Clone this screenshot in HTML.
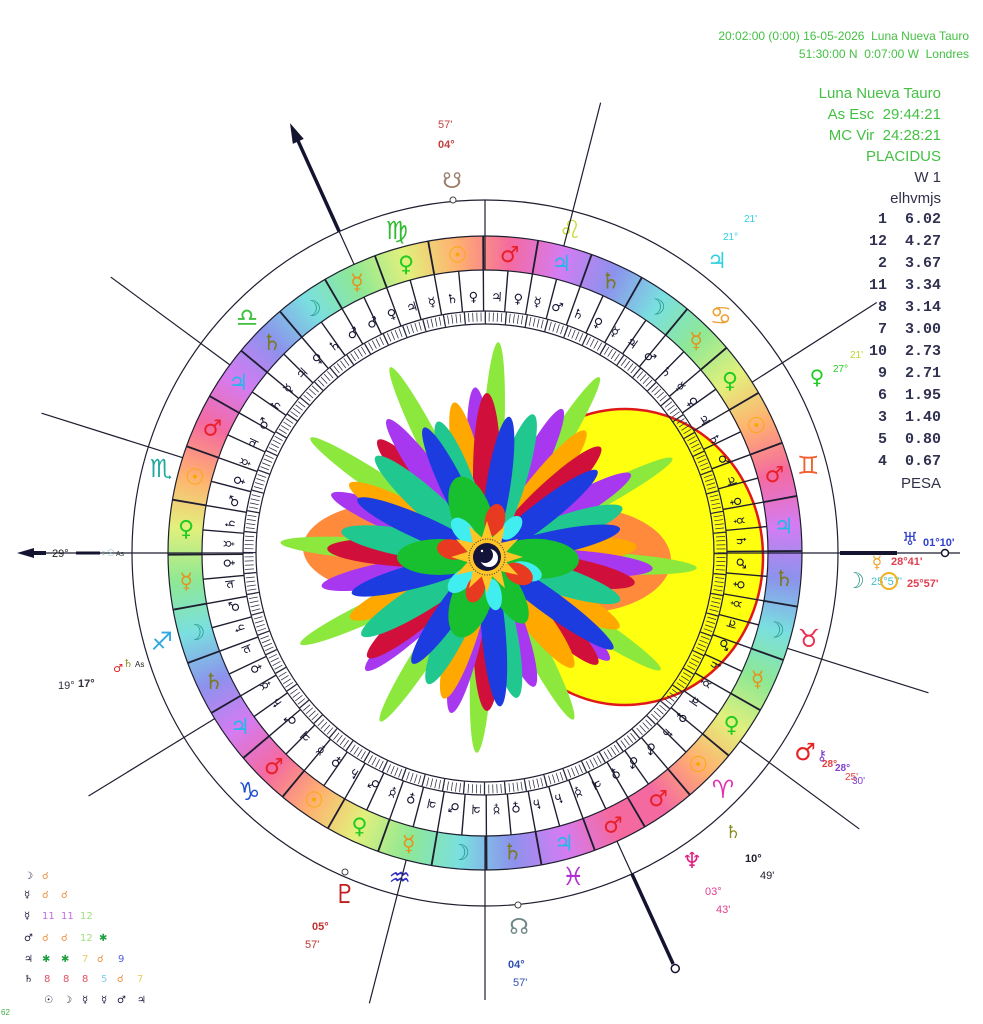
<!DOCTYPE html>
<html><head><meta charset="utf-8">
<style>
html,body{margin:0;padding:0;background:#fff;}
body{width:983px;height:1024px;overflow:hidden;position:relative;font-family:"Liberation Sans","DejaVu Sans",sans-serif;}
#band{position:absolute;left:168px;top:236px;width:634px;height:634px;border-radius:50%;
background:conic-gradient(from 154.74deg,#f46aa0 0deg,#d47cf2 10deg,#8c92ec 20deg,#7adfe0 30deg,#8ee894 40deg,#e2f07c 50deg,#ffb070 60deg,
#f46aa0 70deg,#d47cf2 80deg,#8c92ec 90deg,#7adfe0 100deg,#8ee894 110deg,#e2f07c 120deg,#ffb070 130deg,
#f46aa0 140deg,#d47cf2 150deg,#8c92ec 160deg,#7adfe0 170deg,#8ee894 180deg,#e2f07c 190deg,#ffb070 200deg,
#f46aa0 210deg,#d47cf2 220deg,#8c92ec 230deg,#7adfe0 240deg,#8ee894 250deg,#e2f07c 260deg,#ffb070 270deg,
#f46aa0 280deg,#d47cf2 290deg,#8c92ec 300deg,#7adfe0 310deg,#8ee894 320deg,#e2f07c 330deg,#ffb070 340deg,
#f46aa0 350deg,#f46aa0 360deg);}
svg{position:absolute;left:0;top:0;}
.g{font-family:"DejaVu Sans",sans-serif;text-anchor:middle;}
.ma{fill:#e8202a}.su{fill:#f8a800}.ve{fill:#22cc22}.me{fill:#e8901a}.mo{fill:#2a9a90}.sa{fill:#7a7a20}.ju{fill:#22b8e8}
.hd{position:absolute;color:#44c044;text-align:right;white-space:nowrap;}
.tb{position:absolute;font-family:"Liberation Mono",monospace;font-weight:bold;color:#303050;font-size:15px;white-space:pre;text-align:right;}
</style></head><body>
<div id="band"></div>
<svg width="983" height="1024" viewBox="0 0 983 1024">
<g transform="translate(485,553)">
 <circle r="283" fill="#fff"/>
 <ellipse cx="140" cy="4" rx="138" ry="148" fill="#ffff10" stroke="#e01818" stroke-width="2.5"/>
 <g fill="none" stroke="#1e1e30" stroke-width="1.2">
  <circle r="353"/><circle r="317"/><circle r="283"/><circle r="242"/><circle r="229"/>
 </g>
 <circle r="300" fill="none" stroke="#1e1e30" stroke-width="34" pathLength="360" stroke-dasharray="0.35 9.65" stroke-dashoffset="0.43"/>
 <circle r="262.5" fill="none" stroke="#1e1e30" stroke-width="41" pathLength="360" stroke-dasharray="0.3 4.7" stroke-dashoffset="0.41"/>
 <circle r="236" fill="none" stroke="#2a2a40" stroke-width="9" pathLength="360" stroke-dasharray="0.18 0.82"/>
 <circle r="236" fill="none" stroke="#2a2a40" stroke-width="13" pathLength="360" stroke-dasharray="0.3 4.7"/>
 <path id="bp" d="M 0 -252 A 252 252 0 1 1 0 252 A 252 252 0 1 1 0 -252" fill="none"/>
 <text font-family="DejaVu Sans" font-size="13" font-weight="bold" fill="#141430" textLength="1570" lengthAdjust="spacing"><textPath href="#bp" startOffset="6">♃♀☿♂♄♀☿♃♂♄☿♀♃♄♂♃♀☿♄♂♀☿♃♂♄☿♃♀♄♂♂♀♃☿♄♄♀☿♃♂♃♀☿♂♄♀☿♃♂♄☿♀♃♄♂♃♀☿♄♂♀☿♃♂♄☿♃♀♄♂♂♀♃☿♄♀</textPath></text>

 <g class="g" font-size="22" font-weight="bold">
 <text class="ma" transform="rotate(144.74) translate(0,-300) rotate(-144.74)" dy="8">♂</text>
 <text class="su" transform="rotate(134.74) translate(0,-300) rotate(-134.74)" dy="8">☉</text>
 <text class="ve" transform="rotate(124.74) translate(0,-300) rotate(-124.74)" dy="8">♀</text>
 <text class="me" transform="rotate(114.74) translate(0,-300) rotate(-114.74)" dy="8">☿</text>
 <text class="mo" transform="rotate(104.74) translate(0,-300) rotate(-104.74)" dy="8">☽</text>
 <text class="sa" transform="rotate(94.74) translate(0,-300) rotate(-94.74)" dy="8">♄</text>
 <text class="ju" transform="rotate(84.74) translate(0,-300) rotate(-84.74)" dy="8">♃</text>
 <text class="ma" transform="rotate(74.74) translate(0,-300) rotate(-74.74)" dy="8">♂</text>
 <text class="su" transform="rotate(64.74) translate(0,-300) rotate(-64.74)" dy="8">☉</text>
 <text class="ve" transform="rotate(54.74) translate(0,-300) rotate(-54.74)" dy="8">♀</text>
 <text class="me" transform="rotate(44.74) translate(0,-300) rotate(-44.74)" dy="8">☿</text>
 <text class="mo" transform="rotate(34.74) translate(0,-300) rotate(-34.74)" dy="8">☽</text>
 <text class="sa" transform="rotate(24.74) translate(0,-300) rotate(-24.74)" dy="8">♄</text>
 <text class="ju" transform="rotate(14.74) translate(0,-300) rotate(-14.74)" dy="8">♃</text>
 <text class="ma" transform="rotate(4.74) translate(0,-300) rotate(-4.74)" dy="8">♂</text>
 <text class="su" transform="rotate(-5.26) translate(0,-300) rotate(5.26)" dy="8">☉</text>
 <text class="ve" transform="rotate(-15.26) translate(0,-300) rotate(15.26)" dy="8">♀</text>
 <text class="me" transform="rotate(-25.26) translate(0,-300) rotate(25.26)" dy="8">☿</text>
 <text class="mo" transform="rotate(-35.26) translate(0,-300) rotate(35.26)" dy="8">☽</text>
 <text class="sa" transform="rotate(-45.26) translate(0,-300) rotate(45.26)" dy="8">♄</text>
 <text class="ju" transform="rotate(-55.26) translate(0,-300) rotate(55.26)" dy="8">♃</text>
 <text class="ma" transform="rotate(-65.26) translate(0,-300) rotate(65.26)" dy="8">♂</text>
 <text class="su" transform="rotate(-75.26) translate(0,-300) rotate(75.26)" dy="8">☉</text>
 <text class="ve" transform="rotate(-85.26) translate(0,-300) rotate(85.26)" dy="8">♀</text>
 <text class="me" transform="rotate(-95.26) translate(0,-300) rotate(95.26)" dy="8">☿</text>
 <text class="mo" transform="rotate(-105.26) translate(0,-300) rotate(105.26)" dy="8">☽</text>
 <text class="sa" transform="rotate(-115.26) translate(0,-300) rotate(115.26)" dy="8">♄</text>
 <text class="ju" transform="rotate(-125.26) translate(0,-300) rotate(125.26)" dy="8">♃</text>
 <text class="ma" transform="rotate(-135.26) translate(0,-300) rotate(135.26)" dy="8">♂</text>
 <text class="su" transform="rotate(-145.26) translate(0,-300) rotate(145.26)" dy="8">☉</text>
 <text class="ve" transform="rotate(-155.26) translate(0,-300) rotate(155.26)" dy="8">♀</text>
 <text class="me" transform="rotate(-165.26) translate(0,-300) rotate(165.26)" dy="8">☿</text>
 <text class="mo" transform="rotate(-175.26) translate(0,-300) rotate(175.26)" dy="8">☽</text>
 <text class="sa" transform="rotate(-185.26) translate(0,-300) rotate(185.26)" dy="8">♄</text>
 <text class="ju" transform="rotate(-195.26) translate(0,-300) rotate(195.26)" dy="8">♃</text>
 <text class="ma" transform="rotate(-205.26) translate(0,-300) rotate(205.26)" dy="8">♂</text>
 </g>
 <g class="g" font-size="25">
 <text fill="#e030b0" transform="rotate(134.74) translate(0,-335) rotate(-134.74)" dy="9">♈</text>
 <text fill="#e83050" transform="rotate(104.74) translate(0,-335) rotate(-104.74)" dy="9">♉</text>
 <text fill="#f06030" transform="rotate(74.74) translate(0,-335) rotate(-74.74)" dy="9">♊</text>
 <text fill="#f0a030" transform="rotate(44.74) translate(0,-335) rotate(-44.74)" dy="9">♋</text>
 <text fill="#c8d830" transform="rotate(14.74) translate(0,-335) rotate(-14.74)" dy="9">♌</text>
 <text fill="#33bb33" transform="rotate(-15.26) translate(0,-335) rotate(15.26)" dy="9">♍</text>
 <text fill="#40c040" transform="rotate(-45.26) translate(0,-335) rotate(45.26)" dy="9">♎</text>
 <text fill="#20a8a0" transform="rotate(-75.26) translate(0,-335) rotate(75.26)" dy="9">♏</text>
 <text fill="#30a8e0" transform="rotate(-105.26) translate(0,-335) rotate(105.26)" dy="9">♐</text>
 <text fill="#2050d0" transform="rotate(-135.26) translate(0,-335) rotate(135.26)" dy="9">♑</text>
 <text fill="#3030c0" transform="rotate(-165.26) translate(0,-335) rotate(165.26)" dy="9">♒</text>
 <text fill="#b030d0" transform="rotate(-195.26) translate(0,-335) rotate(195.26)" dy="9">♓</text>
 </g>
 <g stroke="#1e1e30" stroke-width="1.2">
  <line y1="-317" y2="-465" transform="rotate(14.4)"/>
  <line y1="-317" y2="-465" transform="rotate(57.4)"/>
  <line y1="-317" y2="-465" transform="rotate(107.5)"/>
  <line y1="-317" y2="-465" transform="rotate(126.4)"/>
  <line y1="-317" y2="-465" transform="rotate(194.4)"/>
  <line y1="-317" y2="-465" transform="rotate(238.5)"/>
  <line y1="-317" y2="-465" transform="rotate(287.5)"/>
  <line y1="-317" y2="-465" transform="rotate(306.4)"/>
  <line y1="-283" y2="-353" transform="rotate(0)"/>
  <line y1="-283" y2="-447" transform="rotate(180)"/>
  <line y1="-317" y2="-353" transform="rotate(155.4)"/>
  <line y1="-317" y2="-353" transform="rotate(335.6)"/>
 </g>
 <g transform="rotate(335.6)"><line y1="-353" y2="-460" stroke="#141430" stroke-width="3.5"/><polygon points="0,-472 -6,-452 6,-452" fill="#141430"/></g>
 <g transform="rotate(155.4)"><line y1="-353" y2="-452" stroke="#141430" stroke-width="3.5"/><circle cy="-457" r="4" fill="#fff" stroke="#141430" stroke-width="1.5"/></g>
</g>
<line x1="20" y1="553" x2="253" y2="553" stroke="#1e1e30" stroke-width="1.3"/>
<line x1="718" y1="553" x2="960" y2="553" stroke="#1e1e30" stroke-width="1.3"/>
<polygon points="17,553 34,548 34,558" fill="#141430"/>
<line x1="30" y1="553" x2="46" y2="553" stroke="#141430" stroke-width="4"/>
<line x1="76" y1="553" x2="100" y2="553" stroke="#141430" stroke-width="3"/>
<text x="52" y="557" font-size="11" fill="#222">29°</text>
<text x="100" y="556" font-size="9" fill="#7aa">♀☉</text>
<text x="116" y="556" font-size="7" fill="#333">As</text>
<line x1="840" y1="553" x2="897" y2="553" stroke="#141430" stroke-width="4"/>
<circle cx="945" cy="553" r="3.5" fill="#fff" stroke="#141430" stroke-width="1.5"/>

<circle cx="453" cy="200" r="3" fill="#fff" stroke="#444"/>
<circle cx="518" cy="905" r="3" fill="#fff" stroke="#444"/>
<circle cx="345" cy="872" r="3" fill="#fff" stroke="#444"/>

<g transform="translate(487,557)">
 <ellipse cx="-92" cy="-9" rx="92" ry="46" fill="#ff8a3c"/>
 <ellipse cx="92" cy="3" rx="92" ry="53" fill="#ff8a3c"/>
 <g fill="#8ce83c">
  <ellipse cy="-107" rx="11" ry="108" transform="rotate(3)"/>
  <ellipse cy="-106" rx="11" ry="106" transform="rotate(32)"/>
  <ellipse cy="-105" rx="11" ry="105" transform="rotate(62)"/>
  <ellipse cy="-105" rx="11" ry="105" transform="rotate(93)"/>
  <ellipse cy="-103" rx="11" ry="104" transform="rotate(123)"/>
  <ellipse cy="-92" rx="11" ry="92" transform="rotate(152)"/>
  <ellipse cy="-98" rx="11" ry="98" transform="rotate(183)"/>
  <ellipse cy="-98" rx="11" ry="98" transform="rotate(213)"/>
  <ellipse cy="-103" rx="11" ry="103" transform="rotate(245)"/>
  <ellipse cy="-103" rx="11" ry="104" transform="rotate(274)"/>
  <ellipse cy="-106" rx="11" ry="107" transform="rotate(304)"/>
  <ellipse cy="-106" rx="11" ry="107" transform="rotate(333)"/>
 </g>
 <g>
  <ellipse cy="-85" rx="13" ry="85" fill="#a838f0" transform="rotate(356)"/>
  <ellipse cy="-79" rx="14" ry="79" fill="#ffa800" transform="rotate(348)"/>
  <ellipse cy="-82" rx="14" ry="82" fill="#d0103a" transform="rotate(0)"/>
  <ellipse cy="-83" rx="13" ry="83" fill="#a838f0" transform="rotate(27)"/>
  <ellipse cy="-80" rx="14" ry="80" fill="#ffa800" transform="rotate(38)"/>
  <ellipse cy="-79" rx="14" ry="79" fill="#d0103a" transform="rotate(46)"/>
  <ellipse cy="-83" rx="13" ry="83" fill="#a838f0" transform="rotate(60)"/>
  <ellipse cy="-75" rx="14" ry="75" fill="#ffa800" transform="rotate(86)"/>
  <ellipse cy="-83" rx="13" ry="83" fill="#a838f0" transform="rotate(94)"/>
  <ellipse cy="-75" rx="14" ry="75" fill="#d0103a" transform="rotate(100)"/>
  <ellipse cy="-75" rx="14" ry="75" fill="#ffa800" transform="rotate(118)"/>
  <ellipse cy="-80" rx="13" ry="80" fill="#a838f0" transform="rotate(130)"/>
  <ellipse cy="-77" rx="14" ry="77" fill="#d0103a" transform="rotate(134)"/>
  <ellipse cy="-70" rx="14" ry="70" fill="#ffa800" transform="rotate(142)"/>
  <ellipse cy="-69" rx="13" ry="69" fill="#a838f0" transform="rotate(160)"/>
  <ellipse cy="-77" rx="14" ry="77" fill="#d0103a" transform="rotate(180)"/>
  <ellipse cy="-80" rx="13" ry="80" fill="#a838f0" transform="rotate(193)"/>
  <ellipse cy="-74" rx="14" ry="74" fill="#ffa800" transform="rotate(197)"/>
  <ellipse cy="-83" rx="13" ry="83" fill="#a838f0" transform="rotate(227)"/>
  <ellipse cy="-78" rx="14" ry="78" fill="#d0103a" transform="rotate(230)"/>
  <ellipse cy="-75" rx="14" ry="75" fill="#ffa800" transform="rotate(246)"/>
  <ellipse cy="-84" rx="13" ry="84" fill="#a838f0" transform="rotate(260)"/>
  <ellipse cy="-80" rx="14" ry="80" fill="#d0103a" transform="rotate(273)"/>
  <ellipse cy="-84" rx="13" ry="84" fill="#a838f0" transform="rotate(292)"/>
  <ellipse cy="-78" rx="14" ry="78" fill="#ffa800" transform="rotate(298)"/>
  <ellipse cy="-80" rx="14" ry="80" fill="#d0103a" transform="rotate(317)"/>
  <ellipse cy="-85" rx="13" ry="85" fill="#a838f0" transform="rotate(324)"/>
  <ellipse cy="-75" rx="14" ry="75" fill="#20c890" transform="rotate(18)"/>
  <ellipse cy="-72" rx="14" ry="72" fill="#20c890" transform="rotate(70)"/>
  <ellipse cy="-70" rx="14" ry="70" fill="#20c890" transform="rotate(108)"/>
  <ellipse cy="-72" rx="14" ry="72" fill="#20c890" transform="rotate(168)"/>
  <ellipse cy="-70" rx="14" ry="70" fill="#20c890" transform="rotate(205)"/>
  <ellipse cy="-74" rx="14" ry="74" fill="#20c890" transform="rotate(238)"/>
  <ellipse cy="-74" rx="14" ry="74" fill="#20c890" transform="rotate(280)"/>
  <ellipse cy="-75" rx="14" ry="75" fill="#20c890" transform="rotate(312)"/>
  <ellipse cy="-72" rx="14" ry="72" fill="#20c890" transform="rotate(340)"/>
  <ellipse cy="-71" rx="12" ry="71" fill="#1c3ce0" transform="rotate(9)"/>
  <ellipse cy="-70" rx="12" ry="70" fill="#1c3ce0" transform="rotate(52)"/>
  <ellipse cy="-68" rx="12" ry="68" fill="#1c3ce0" transform="rotate(78)"/>
  <ellipse cy="-78" rx="12" ry="78" fill="#1c3ce0" transform="rotate(126)"/>
  <ellipse cy="-75" rx="12" ry="75" fill="#1c3ce0" transform="rotate(175)"/>
  <ellipse cy="-65" rx="12" ry="65" fill="#1c3ce0" transform="rotate(215)"/>
  <ellipse cy="-70" rx="12" ry="70" fill="#1c3ce0" transform="rotate(255)"/>
  <ellipse cy="-71" rx="12" ry="71" fill="#1c3ce0" transform="rotate(294)"/>
  <ellipse cy="-72" rx="12" ry="72" fill="#1c3ce0" transform="rotate(334)"/>
 </g>
 <g fill="#18c030">
  <ellipse cy="-45" rx="20" ry="40" transform="rotate(340)"/>
  <ellipse cy="-48" rx="18" ry="42" transform="rotate(270)"/>
  <ellipse cy="-50" rx="20" ry="42" transform="rotate(92)"/>
  <ellipse cy="-45" rx="20" ry="40" transform="rotate(200)"/>
  <ellipse cy="-40" rx="14" ry="36" transform="rotate(150)"/>
 </g>
 <g fill="#40eef0">
  <ellipse cy="-35" rx="9" ry="16" transform="rotate(318)"/>
  <ellipse cy="-35" rx="9" ry="16" transform="rotate(228)"/>
  <ellipse cy="-38" rx="8" ry="16" transform="rotate(170)"/>
  <ellipse cy="-42" rx="9" ry="16" transform="rotate(110)"/>
  <ellipse cy="-38" rx="8" ry="14" transform="rotate(40)"/>
 </g>
 <g fill="#e83a20">
  <ellipse cy="-38" rx="10" ry="16" transform="rotate(12)"/>
  <ellipse cy="-36" rx="10" ry="15" transform="rotate(282)"/>
  <ellipse cy="-36" rx="10" ry="15" transform="rotate(118)"/>
  <ellipse cy="-34" rx="9" ry="14" transform="rotate(200)"/>
 </g>
 <polygon fill="#ffc428" points="0,-36 5.18,-19.32 18,-31.18 14.14,-14.14 31.18,-18 19.32,-5.18 36,0 19.32,5.18 31.18,18 14.14,14.14 18,31.18 5.18,19.32 0,36 -5.18,19.32 -18,31.18 -14.14,14.14 -31.18,18 -19.32,5.18 -36,0 -19.32,-5.18 -31.18,-18 -14.14,-14.14 -18,-31.18 -5.18,-19.32"/>
 <circle r="18" fill="none" stroke="#333" stroke-width="1" stroke-dasharray="1 1.5"/>
 <circle r="14" fill="#14143a"/>
 <circle cx="2" cy="1" r="9" fill="#fff"/>
 <circle cx="-2" cy="-2" r="8" fill="#14143a"/>
 <circle cx="-5" cy="-6" r="1.2" fill="#fff"/>
</g>

<g font-family="Liberation Sans, DejaVu Sans, sans-serif">
 <text x="438" y="128" font-size="11" fill="#c04040">57'</text>
 <text x="438" y="148" font-size="11" fill="#c04040" font-weight="bold">04°</text>
 <text x="452" y="188" class="g" font-size="22" fill="#a08070">☋</text>
 <text x="519" y="934" class="g" font-size="22" fill="#708888">☊</text>
 <text x="508" y="968" font-size="11" fill="#3050b0" font-weight="bold">04°</text>
 <text x="513" y="986" font-size="11" fill="#3050b0">57'</text>
 <text x="345" y="903" class="g" font-size="26" fill="#c02020" font-weight="bold">♇</text>
 <text x="312" y="930" font-size="11" fill="#c03030" font-weight="bold">05°</text>
 <text x="305" y="948" font-size="11" fill="#c03030">57'</text>

 <text x="717" y="268" class="g" font-size="22" fill="#30d0e0" font-weight="bold">♃</text>
 <text x="723" y="240" font-size="10" fill="#30d0e0">21°</text>
 <text x="744" y="222" font-size="10" fill="#30d0e0">21'</text>
 <text x="817" y="384" class="g" font-size="20" fill="#22cc22">♀</text>
 <text x="833" y="372" font-size="10" fill="#22cc22">27°</text>
 <text x="850" y="358" font-size="10" fill="#b8d830">21'</text>

 <text x="910" y="545" class="g" font-size="18" fill="#3040d0" font-weight="bold">♅</text>
 <text x="923" y="546" font-size="11" fill="#3040d0" font-weight="bold">01°10'</text>
 <text x="877" y="568" class="g" font-size="17" fill="#f0a020">☿</text>
 <text x="891" y="565" font-size="11" fill="#e04050" font-weight="bold">28°41'</text>
 <text x="855" y="588" class="g" font-size="22" fill="#3a9a90">☽</text>
 <text x="871" y="585" font-size="11" fill="#40c0c8">25°57'</text>
 <circle cx="889" cy="581" r="8" fill="none" stroke="#f0b020" stroke-width="2"/>
 <text x="907" y="587" font-size="11" fill="#e04050" font-weight="bold">25°57'</text>

 <text x="805" y="760" class="g" font-size="24" fill="#e82020" font-weight="bold">♂</text>
 <text x="822" y="760" class="g" font-size="14" fill="#8040d0">⚷</text>
 <text x="822" y="767" font-size="10" fill="#e04040" font-weight="bold">28°</text>
 <text x="835" y="771" font-size="10" fill="#8040d0" font-weight="bold">28°</text>
 <text x="845" y="780" font-size="10" fill="#e04040">25'</text>
 <text x="852" y="784" font-size="10" fill="#8040d0">30'</text>

 <text x="733" y="838" class="g" font-size="18" fill="#8a8a20">♄</text>
 <text x="745" y="862" font-size="11" fill="#202030" font-weight="bold">10°</text>
 <text x="760" y="879" font-size="11" fill="#202030">49'</text>
 <text x="692" y="868" class="g" font-size="22" fill="#e02080" font-weight="bold">♆</text>
 <text x="705" y="895" font-size="11" fill="#e04090">03°</text>
 <text x="716" y="913" font-size="11" fill="#e04090">43'</text>

 <text x="118" y="672" class="g" font-size="11" fill="#e02020">♂</text>
 <text x="128" y="667" class="g" font-size="11" fill="#8a8a20">♄</text>
 <text x="135" y="667" font-size="8" fill="#222">As</text>
 <text x="58" y="689" font-size="11" fill="#303040">19°</text>
 <text x="78" y="687" font-size="11" fill="#303040" font-weight="bold">17°</text>
</g>

<g font-family="DejaVu Sans, sans-serif" font-size="10">
 <text x="24" y="879" fill="#202040">☽</text><text x="42" y="879" fill="#f09040">☌</text>
 <text x="24" y="898" fill="#202040">☿</text><text x="42" y="898" fill="#f09040">☌</text><text x="61" y="898" fill="#f09040">☌</text>
 <text x="24" y="919" fill="#202040">☿</text><text x="42" y="919" fill="#c070e0">11</text><text x="61" y="919" fill="#c070e0">11</text><text x="80" y="919" fill="#a0e080">12</text>
 <text x="24" y="941" fill="#202040">♂</text><text x="42" y="941" fill="#f09040">☌</text><text x="61" y="941" fill="#f09040">☌</text><text x="80" y="941" fill="#a0e080">12</text><text x="99" y="941" fill="#20a040">✱</text>
 <text x="24" y="962" fill="#202040">♃</text><text x="42" y="962" fill="#20a040">✱</text><text x="61" y="962" fill="#20a040">✱</text><text x="82" y="962" fill="#e8d060">7</text><text x="97" y="962" fill="#f09040">☌</text><text x="118" y="962" fill="#5060e0">9</text>
 <text x="24" y="982" fill="#202040">♄</text><text x="44" y="982" fill="#e05060">8</text><text x="63" y="982" fill="#e05060">8</text><text x="82" y="982" fill="#e05060">8</text><text x="101" y="982" fill="#80d0f0">5</text><text x="117" y="982" fill="#f09040">☌</text><text x="137" y="982" fill="#e8d060">7</text>
 <text x="44" y="1003" fill="#202040">☉</text><text x="63" y="1003" fill="#202040">☽</text><text x="82" y="1003" fill="#202040">☿</text><text x="101" y="1003" fill="#202040">☿</text><text x="117" y="1003" fill="#202040">♂</text><text x="137" y="1003" fill="#202040">♃</text>
 <text x="1" y="1015" font-size="8" fill="#40b040" font-family="Liberation Sans, sans-serif">62</text>
</g>
</svg>

<div class="hd" style="right:14px;top:27px;font-size:12px;line-height:18px;">20:02:00 (0:00) 16-05-2026&nbsp; Luna Nueva Tauro<br>51:30:00 N&nbsp; 0:07:00 W&nbsp; Londres</div>
<div class="hd" style="right:42px;top:83px;font-size:15px;line-height:21px;">Luna Nueva Tauro<br>As Esc&nbsp; 29:44:21<br>MC Vir&nbsp; 24:28:21<br>PLACIDUS<br><span style="color:#303048">W 1<br>elhvmjs</span></div>
<div class="tb" style="right:42px;top:209px;line-height:22px;"> 1  6.02
12  4.27
 2  3.67
11  3.34
 8  3.14
 7  3.00
10  2.73
 9  2.71
 6  1.95
 3  1.40
 5  0.80
 4  0.67</div>
<div class="hd" style="right:42px;top:475px;font-size:15px;color:#303048;">PESA</div>
</body></html>
